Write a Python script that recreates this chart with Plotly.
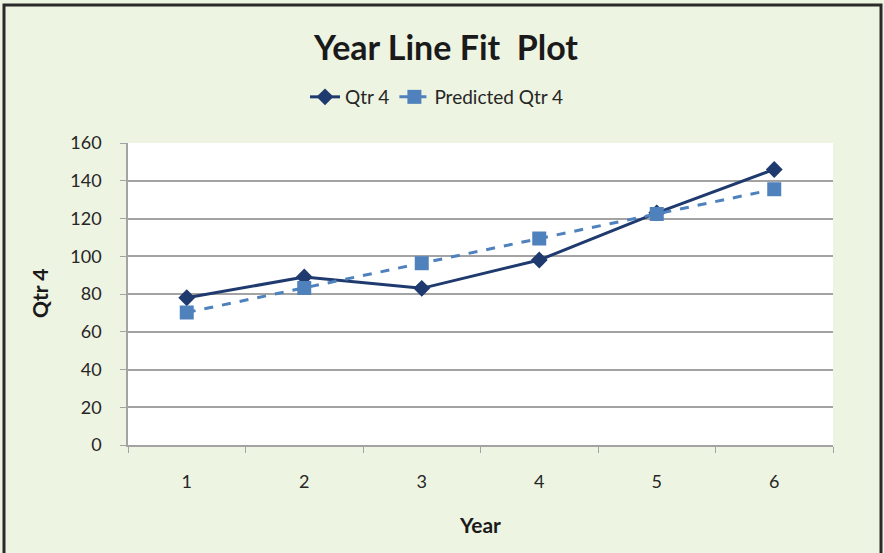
import plotly.graph_objects as go

# Data
years = ["1", "2", "3", "4", "5", "6"]
qtr4 = [78, 89, 83, 98, 123, 146]
predicted_qtr4 = [70.2, 83.2, 96.3, 109.4, 122.4, 135.5]
y_ticks = [0, 20, 40, 60, 80, 100, 120, 140, 160]

W, H = 884, 553
L, R, T, B = 128, 833, 143, 445  # plot area in pixels


def px_x(p):
    return (p - L) / (R - L)


def px_y(q):
    return (B - q) / (B - T)


FONT = "Lato"
TEXT = "#262626"
NAVY = "#1F3A6E"
BLUE = "#4F81BD"
GRID = "#A3A3A3"
BG = "#EEF4E2"

fig = go.Figure()

fig.add_trace(go.Scatter(
    x=years, y=qtr4, name="Qtr 4", mode="lines+markers",
    line=dict(color=NAVY, width=3),
    marker=dict(symbol="diamond", size=13, color=NAVY),
))
fig.add_trace(go.Scatter(
    x=years, y=predicted_qtr4, name="Predicted Qtr 4", mode="lines+markers",
    line=dict(color=BLUE, width=3, dash="dash"),
    marker=dict(symbol="square", size=14, color=BLUE),
))

fig.update_layout(
    width=W, height=H,
    margin=dict(l=L, r=W - R, t=T, b=H - B, pad=0),
    paper_bgcolor=BG,
    plot_bgcolor="white",
    font=dict(family=FONT, color=TEXT, size=18),
    title=dict(
        text="<b>Year Line Fit  Plot</b>",
        x=446 / W, xanchor="center",
        y=1 - 48 / H, yanchor="middle", yref="container",
        font=dict(family=FONT, size=34, color="#1a1a1a"),
    ),
    showlegend=True,
    legend=dict(
        orientation="h",
        x=px_x(437), xanchor="center",
        y=px_y(97), yanchor="middle",
        bgcolor="rgba(0,0,0,0)",
        font=dict(family=FONT, size=19, color=TEXT),
        itemwidth=30,
    ),
)

fig.update_xaxes(
    type="category",
    range=[-0.5, 5.5],
    tickson="boundaries",
    ticks="outside", ticklen=6, tickcolor=GRID, tickwidth=1,
    showline=True, linecolor=GRID, linewidth=1.5,
    showgrid=False, zeroline=False,
    ticklabelstandoff=20,
    tickfont=dict(family=FONT, size=18, color=TEXT),
)
fig.update_yaxes(
    range=[0, 160],
    tickvals=y_ticks,
    ticks="outside", ticklen=6, tickcolor=GRID, tickwidth=1,
    showline=True, linecolor=GRID, linewidth=1.5,
    showgrid=True, gridcolor=GRID, gridwidth=1.5,
    zeroline=False,
    ticklabelstandoff=15,
    tickfont=dict(family=FONT, size=18, color=TEXT),
)

# Axis titles
fig.add_annotation(
    text="<b>Qtr 4</b>", xref="paper", yref="paper",
    x=px_x(39), y=px_y(294), textangle=-90, showarrow=False,
    xanchor="center", yanchor="middle",
    font=dict(family=FONT, size=21, color="#1a1a1a"),
)
fig.add_annotation(
    text="<b>Year</b>", xref="paper", yref="paper",
    x=px_x(480), y=px_y(524), showarrow=False,
    xanchor="center", yanchor="middle",
    font=dict(family=FONT, size=21, color="#1a1a1a"),
)

# Chart frame
fig.add_shape(
    type="rect", xref="paper", yref="paper",
    x0=px_x(4), x1=px_x(881), y0=px_y(558), y1=px_y(5),
    line=dict(color="#2a2a2a", width=3), layer="above",
)

fig.write_html("out.html")
